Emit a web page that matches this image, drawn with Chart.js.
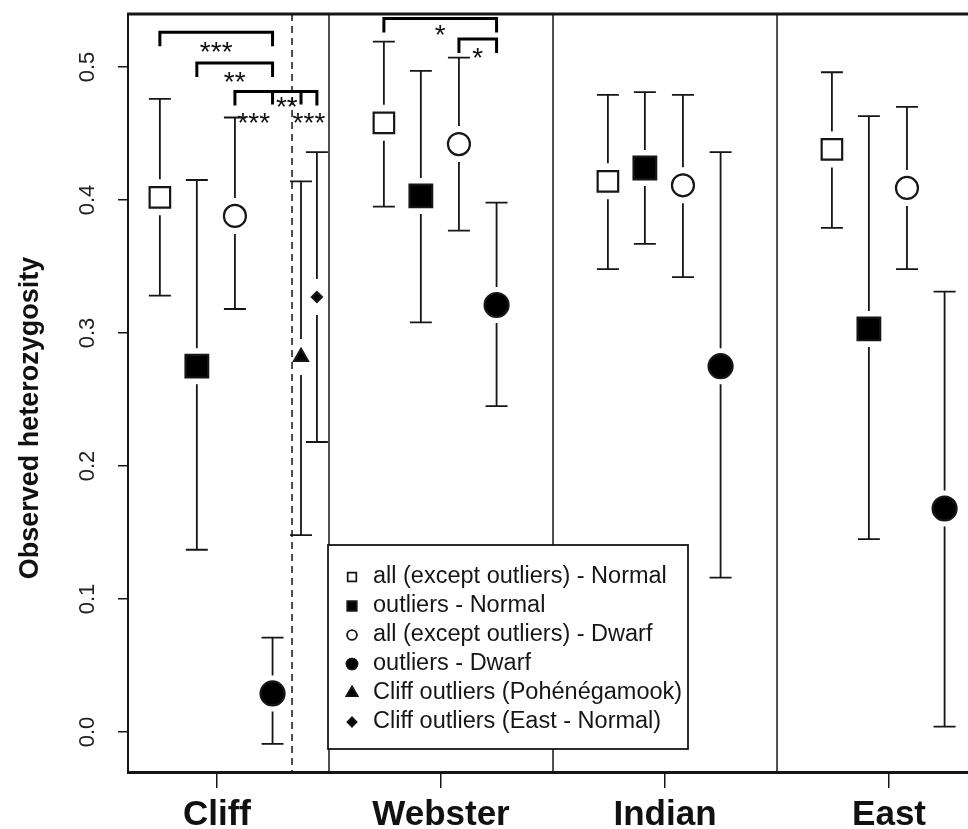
<!DOCTYPE html>
<html>
<head>
<meta charset="utf-8">
<script src="https://cdn.jsdelivr.net/npm/chart.js@4"></script>
<style>
  html, body { margin: 0; padding: 0; background: #fff; overflow: hidden; }
  #wrap { width: 995px; height: 829px; }
</style>
</head>
<body>
<div id="wrap"><canvas id="hetChart" width="995" height="829"></canvas></div>
<script>
// lakes on the x axis
const groups = ['Cliff', 'Webster', 'Indian', 'East'];

const seriesNames = [
  'all (except outliers) - Normal',
  'outliers - Normal',
  'all (except outliers) - Dwarf',
  'outliers - Dwarf',
  'Cliff outliers (Pohénégamook)',
  'Cliff outliers (East - Normal)'
];

// mean observed heterozygosity and interval bounds, one value per lake
const allNormal   = [0.402, 0.458, 0.414, 0.438];
const allNormalLo = [0.328, 0.395, 0.348, 0.379];
const allNormalHi = [0.476, 0.519, 0.479, 0.496];

const outNormal   = [0.275, 0.403, 0.424, 0.303];
const outNormalLo = [0.137, 0.308, 0.367, 0.145];
const outNormalHi = [0.415, 0.497, 0.481, 0.463];

const allDwarf   = [0.388, 0.442, 0.411, 0.409];
const allDwarfLo = [0.318, 0.377, 0.342, 0.348];
const allDwarfHi = [0.462, 0.507, 0.479, 0.470];

const outDwarf   = [0.029, 0.321, 0.275, 0.168];
const outDwarfLo = [-0.009, 0.245, 0.116, 0.004];
const outDwarfHi = [0.071, 0.398, 0.436, 0.331];

// Cliff only
const cliffPoh   = [0.282];
const cliffPohLo = [0.148];
const cliffPohHi = [0.414];

const cliffEast   = [0.327];
const cliffEastLo = [0.218];
const cliffEastHi = [0.436];

const yTickValues = [0.0, 0.1, 0.2, 0.3, 0.4, 0.5];

// significance brackets: lake index, series where the bracket drops, level
const brackets = [
  { g: 0, ends: [0, 3], level: 0.526 },
  { g: 0, ends: [1, 3], level: 0.503 },
  { g: 0, ends: [2, 3, 4, 5], level: 0.4816 },
  { g: 1, ends: [0, 3], level: 0.5365 },
  { g: 1, ends: [2, 3], level: 0.521 }
];
const starLabels = [
  { g: 0, a: 0, b: 3, y: 0.515, text: '***' },
  { g: 0, a: 1, b: 3, y: 0.4925, text: '**' },
  { g: 0, a: 3, b: 4, y: 0.4735, text: '**' },
  { g: 0, a: 2, b: 3, y: 0.4617, text: '***' },
  { g: 0, a: 4, b: 5, y: 0.4617, text: '***' },
  { g: 1, a: 0, b: 3, y: 0.5278, text: '*' },
  { g: 1, a: 2, b: 3, y: 0.5105, text: '*' }
];

// dodge of each series inside a lake (x units)
const dodge = [-0.255, -0.09, 0.08, 0.248, 0.375, 0.446];
const cliffSplit = 1.335;

const means = [allNormal, outNormal, allDwarf, outDwarf, cliffPoh, cliffEast];
const lows  = [allNormalLo, outNormalLo, allDwarfLo, outDwarfLo, cliffPohLo, cliffEastLo];
const highs = [allNormalHi, outNormalHi, allDwarfHi, outDwarfHi, cliffPohHi, cliffEastHi];

const markers = [
  { pointStyle: 'rect', radius: 14.5, fill: '#fff' },
  { pointStyle: 'rect', radius: 16, fill: '#000' },
  { pointStyle: 'circle', radius: 11, fill: '#fff' },
  { pointStyle: 'circle', radius: 12, fill: '#000' },
  { pointStyle: 'triangle', radius: 8, fill: '#000' },
  { pointStyle: 'rectRot', radius: 5, fill: '#000' }
];
const legendMarkers = [
  { pointStyle: 'rect', radius: 6, fill: '#fff' },
  { pointStyle: 'rect', radius: 6.5, fill: '#000' },
  { pointStyle: 'circle', radius: 4.8, fill: '#fff' },
  { pointStyle: 'circle', radius: 5.5, fill: '#000' },
  { pointStyle: 'triangle', radius: 6.5, fill: '#000' },
  { pointStyle: 'rectRot', radius: 4.5, fill: '#000' }
];

const ink = '#161616';
const FONT = '"Liberation Sans", Arial, sans-serif';

const datasets = means.map((vals, s) => ({
  label: seriesNames[s],
  data: vals.map((v, i) => ({ x: i + 1 + dodge[s], y: v })),
  pointStyle: markers[s].pointStyle,
  pointRadius: markers[s].radius,
  pointBackgroundColor: markers[s].fill,
  pointBorderColor: ink,
  pointBorderWidth: 2.2,
  showLine: false
}));

const xPos = (g, s) => g + 1 + dodge[s];

const decorations = {
  id: 'decorations',
  beforeDatasetsDraw(chart) {
    const { ctx, chartArea: ca, scales: { x, y } } = chart;
    ctx.save();
    ctx.strokeStyle = ink;
    // lake separators
    ctx.lineWidth = 1.5;
    [1.5, 2.5, 3.5].forEach(v => {
      const px = x.getPixelForValue(v);
      ctx.beginPath(); ctx.moveTo(px, ca.top); ctx.lineTo(px, ca.bottom); ctx.stroke();
    });
    ctx.setLineDash([7, 5]);
    const dx = x.getPixelForValue(cliffSplit);
    ctx.beginPath(); ctx.moveTo(dx, ca.top); ctx.lineTo(dx, ca.bottom); ctx.stroke();
    ctx.setLineDash([]);

    // error bars, broken around the marker
    ctx.lineWidth = 1.8;
    const gap = 18, cap = 11;
    means.forEach((vals, s) => {
      vals.forEach((v, i) => {
        const px = x.getPixelForValue(xPos(i, s));
        const pm = y.getPixelForValue(v);
        const pl = y.getPixelForValue(lows[s][i]);
        const ph = y.getPixelForValue(highs[s][i]);
        ctx.beginPath();
        ctx.moveTo(px, ph); ctx.lineTo(px, pm - gap);
        ctx.moveTo(px, pm + gap); ctx.lineTo(px, pl);
        ctx.moveTo(px - cap, ph); ctx.lineTo(px + cap, ph);
        ctx.moveTo(px - cap, pl); ctx.lineTo(px + cap, pl);
        ctx.stroke();
      });
    });
    ctx.restore();
  },
  afterDatasetsDraw(chart) {
    const { ctx, scales: { x, y } } = chart;
    ctx.save();
    ctx.strokeStyle = '#000';
    ctx.lineWidth = 3;
    ctx.lineCap = 'butt';
    brackets.forEach(b => {
      const py = y.getPixelForValue(b.level);
      const xs = b.ends.map(s => x.getPixelForValue(xPos(b.g, s)));
      ctx.beginPath();
      ctx.moveTo(xs[0], py + 14);
      ctx.lineTo(xs[0], py);
      ctx.lineTo(xs[xs.length - 1], py);
      ctx.lineTo(xs[xs.length - 1], py + 14);
      for (let k = 1; k < xs.length - 1; k++) {
        ctx.moveTo(xs[k], py); ctx.lineTo(xs[k], py + 13);
      }
      ctx.stroke();
    });
    ctx.fillStyle = '#111';
    ctx.font = '28px ' + FONT;
    ctx.textAlign = 'center';
    ctx.textBaseline = 'alphabetic';
    starLabels.forEach(l => {
      const px = (x.getPixelForValue(xPos(l.g, l.a)) + x.getPixelForValue(xPos(l.g, l.b))) / 2;
      const py = y.getPixelForValue(l.y);
      const m = ctx.measureText(l.text);
      ctx.fillText(l.text, px, py + (m.actualBoundingBoxAscent - m.actualBoundingBoxDescent) / 2);
    });
    ctx.restore();
  },
  afterDraw(chart) {
    const { ctx, chartArea: ca, scales: { x, y } } = chart;
    ctx.save();
    // top frame
    ctx.strokeStyle = ink;
    ctx.lineWidth = 3;
    ctx.beginPath(); ctx.moveTo(ca.left - 1, ca.top); ctx.lineTo(ca.right, ca.top); ctx.stroke();

    // rotated y tick labels
    ctx.fillStyle = '#222';
    ctx.font = '22px ' + FONT;
    ctx.textAlign = 'center';
    ctx.textBaseline = 'middle';
    yTickValues.forEach(v => {
      ctx.save();
      ctx.translate(88, y.getPixelForValue(v));
      ctx.rotate(-Math.PI / 2);
      ctx.fillText(v.toFixed(1), 0, 0);
      ctx.restore();
    });
    // y title
    ctx.save();
    ctx.fillStyle = '#111';
    ctx.font = 'bold 27px ' + FONT;
    ctx.translate(31, 418);
    ctx.rotate(-Math.PI / 2);
    ctx.fillText('Observed heterozygosity', 0, 0);
    ctx.restore();

    // legend box
    const left = x.getPixelForValue(1.5) - 1;
    const top = 545, right = 688, bottom = 749;
    ctx.fillStyle = '#fff';
    ctx.fillRect(left, top, right - left, bottom - top);
    ctx.strokeStyle = ink;
    ctx.lineWidth = 1.8;
    ctx.strokeRect(left, top, right - left, bottom - top);
    ctx.font = '23.5px ' + FONT;
    ctx.textAlign = 'left';
    ctx.textBaseline = 'middle';
    seriesNames.forEach((name, s) => {
      const ly = 577 + s * 29;
      const mk = legendMarkers[s];
      Chart.helpers.drawPoint(ctx, {
        pointStyle: mk.pointStyle, radius: mk.radius, rotation: 0, borderWidth: 1.6
      }, 352, ly);
      ctx.fillStyle = mk.fill;
      ctx.strokeStyle = ink;
      ctx.lineWidth = 1.6;
      ctx.fill();
      ctx.stroke();
      ctx.fillStyle = '#161616';
      ctx.fillText(name, 373, ly);
    });
    ctx.restore();
  }
};

new Chart(document.getElementById('hetChart'), {
  type: 'scatter',
  data: { datasets: datasets },
  options: {
    responsive: false,
    animation: false,
    layout: { autoPadding: false, padding: { top: 14, left: 0, right: 0, bottom: 0 } },
    plugins: { legend: { display: false }, tooltip: { enabled: false } },
    scales: {
      x: {
        type: 'linear',
        min: 0.6027,
        max: 4.473,
        afterBuildTicks: s => { s.ticks = groups.map((g, i) => ({ value: i + 1 })); },
        afterFit: s => { s.height = 57; },
        ticks: {
          autoSkip: false,
          maxRotation: 0,
          padding: 6,
          color: '#111',
          font: { family: FONT, size: 35, weight: 'bold' },
          callback: v => groups[Math.round(v) - 1]
        },
        grid: { drawOnChartArea: false, drawTicks: true, tickLength: 16, color: ink, lineWidth: 1.5 },
        border: { display: true, color: ink, width: 3 }
      },
      y: {
        min: -0.0301,
        max: 0.5398,
        afterFit: s => { s.width = 128; },
        ticks: { stepSize: 0.1, includeBounds: false, display: false },
        grid: { drawOnChartArea: false, drawTicks: true, tickLength: 10, color: ink, lineWidth: 1.5 },
        border: { display: true, color: ink, width: 2 }
      }
    }
  },
  plugins: [decorations]
});
</script>
</body>
</html>
